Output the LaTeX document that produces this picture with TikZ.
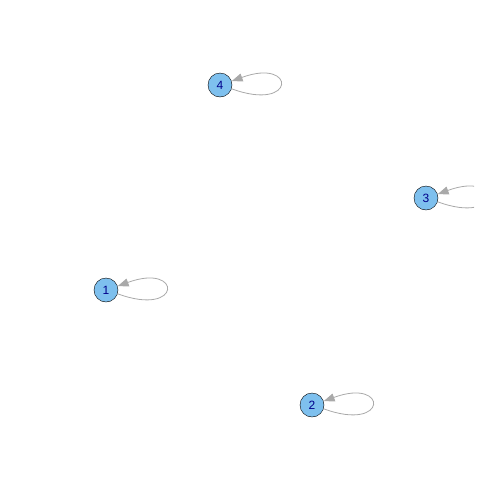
\documentclass[tikz,border=0pt]{standalone}
\usepackage{fontspec}
\setmainfont{Liberation Sans}
\usetikzlibrary{arrows.meta}
\definecolor{vtxfill}{HTML}{7EC0EE}
\definecolor{vtxtext}{HTML}{00008B}
\definecolor{loopgray}{HTML}{A9A9A9}
\tikzset{
vtx/.style={circle,draw=black,fill=vtxfill,text=vtxtext,minimum size=24pt,inner sep=0pt,font=\fontsize{12}{12}\selectfont},
selfloop/.style={draw=loopgray,line width=0.8pt,-{Triangle[length=11pt,width=8pt]}}
}
\begin{document}
\begin{tikzpicture}[x=1pt,y=-1pt]
\useasboundingbox (0,0) rectangle (504,504);
\node[vtx](V1) at (106,290){1};
\node[vtx](V2) at (312,405){2};
\node[vtx](V3) at (426,198){3};
\node[vtx](V4) at (220,85){4};
\begin{scope}
\clip (0,0) rectangle (474,504);
\draw[selfloop](V1.-18) .. controls +(65,24) and +(65,-24) .. (V1.18);
\draw[selfloop](V2.-18) .. controls +(65,24) and +(65,-24) .. (V2.18);
\draw[selfloop](V3.-18) .. controls +(65,24) and +(65,-24) .. (V3.18);
\draw[selfloop](V4.-18) .. controls +(65,24) and +(65,-24) .. (V4.18);
\end{scope}
\end{tikzpicture}
\end{document}
